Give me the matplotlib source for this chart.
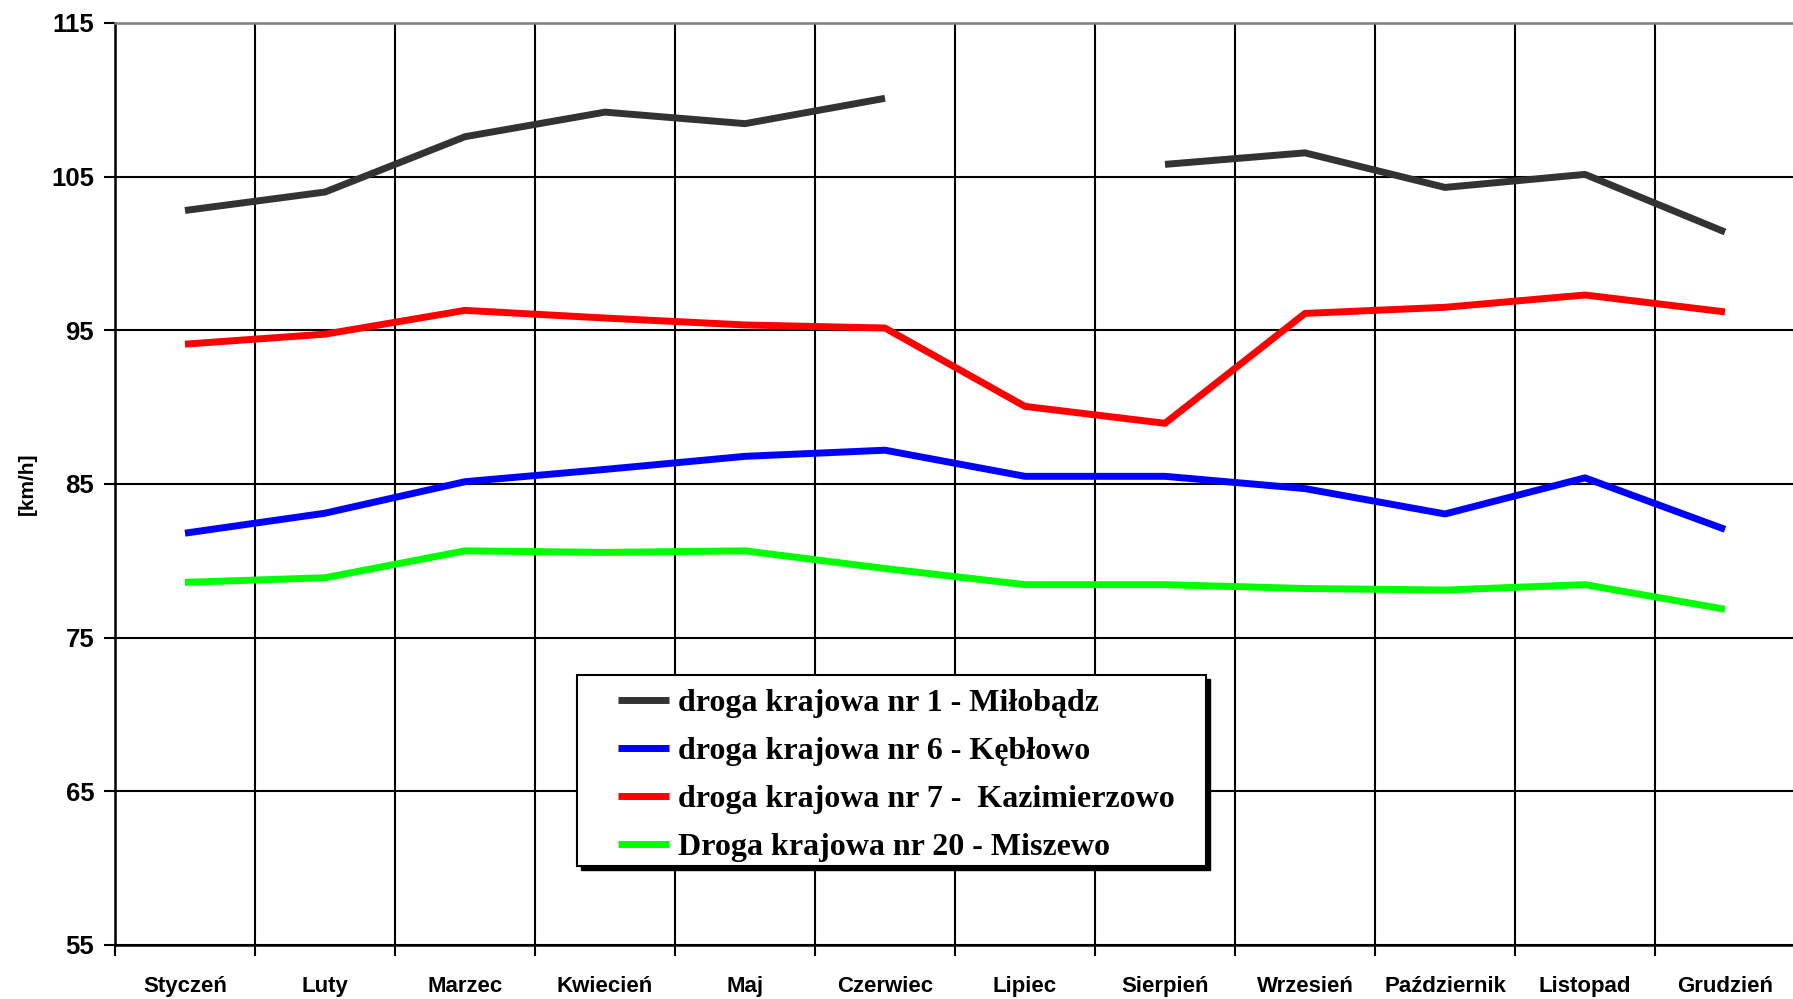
import numpy as np
import matplotlib
matplotlib.use("Agg")
import matplotlib.pyplot as plt
from matplotlib.patches import Rectangle

months = ["Styczeń", "Luty", "Marzec", "Kwiecień", "Maj", "Czerwiec", "Lipiec",
          "Sierpień", "Wrzesień", "Październik", "Listopad", "Grudzień"]

dk1 = [102.8, 104.0, 107.6, 109.2, 108.45, 110.1, np.nan, 105.8, 106.55, 104.3, 105.15, 101.4]
dk6 = [81.8, 83.1, 85.15, 85.95, 86.8, 87.2, 85.5, 85.5, 84.7, 83.05, 85.4, 82.05]
dk7 = [94.1, 94.75, 96.3, 95.8, 95.35, 95.15, 90.05, 88.95, 96.1, 96.5, 97.3, 96.2]
dk20 = [78.6, 78.9, 80.65, 80.55, 80.65, 79.5, 78.45, 78.45, 78.2, 78.1, 78.45, 76.85]

labels = ["droga krajowa nr 1 - Miłobądz",
          "droga krajowa nr 6 - Kębłowo",
          "droga krajowa nr 7 -  Kazimierzowo",
          "Droga krajowa nr 20 - Miszewo"]
colors = ["#333333", "#0000FF", "#FF0000", "#00FF00"]
yticks = [55, 65, 75, 85, 95, 105, 115]

W, H = 1793, 999
fig = plt.figure(figsize=(W / 100, H / 100), dpi=100)
L, R, T, B = 115, 1795, 23, 945
ax = fig.add_axes([L / W, 1 - B / H, (R - L) / W, (B - T) / H])

x = np.arange(len(months))
handles = []
for vals, c, lab in zip([dk1, dk6, dk7, dk20], colors, labels):
    ln, = ax.plot(x, vals, color=c, lw=5, label=lab, solid_capstyle="butt", zorder=3)
    handles.append(ln)

ax.set_xlim(-0.5, len(months) - 0.5)
ax.set_ylim(55, 115)

ax.set_yticks(yticks)
ax.set_yticklabels([str(v) for v in yticks])
ax.set_xticks(np.arange(-0.5, len(months), 1.0))
ax.set_xticklabels([])
ax.set_xticks(x, minor=True)
ax.set_xticklabels(months, minor=True)

ax.tick_params(axis="y", which="major", direction="out", length=8, width=1.5,
               pad=7, labelsize=18.5)
ax.tick_params(axis="x", which="major", direction="out", length=8, width=1.5)
ax.tick_params(axis="x", which="minor", length=0, pad=22.5, labelsize=16)
for lbl in ax.get_xticklabels(minor=True):
    lbl.set_fontweight("bold")
    lbl.set_fontfamily(["Liberation Sans Narrow", "Liberation Sans", "DejaVu Sans"])
for lbl in ax.get_yticklabels():
    lbl.set_fontweight("bold")
    lbl.set_fontfamily(["Liberation Sans", "DejaVu Sans"])

ax.grid(True, which="major", axis="both", color="black", lw=1.5, zorder=1)
for s in ["left", "bottom"]:
    ax.spines[s].set_color("black")
    ax.spines[s].set_linewidth(1.8)
ax.spines["top"].set_color("#808080")
ax.spines["top"].set_linewidth(1.8)
ax.spines["right"].set_visible(False)

fig.text(27 / W, 1 - 484 / H, "[km/h]", rotation=90, ha="center", va="center",
         fontsize=15, fontweight="bold",
         family=["Liberation Sans Narrow", "Liberation Sans", "DejaVu Sans"])

# legend box with solid shadow
bx0, by0, bx1, by1 = 577, 675, 1206, 866
sh = 4
fig.add_artist(Rectangle(((bx0 + sh) / W, 1 - (by1 + sh) / H), (bx1 - bx0) / W, (by1 - by0) / H,
                         transform=fig.transFigure, facecolor="black", edgecolor="black", zorder=3))
fig.add_artist(Rectangle((bx0 / W, 1 - by1 / H), (bx1 - bx0) / W, (by1 - by0) / H,
                         transform=fig.transFigure, facecolor="white", edgecolor="black",
                         lw=1.5, zorder=4))

leg = fig.legend(handles=handles, labels=labels, loc="upper left",
                 bbox_to_anchor=(617.5 / W, 1 - 689 / H), bbox_transform=fig.transFigure,
                 borderaxespad=0, borderpad=0, frameon=False,
                 prop={"family": ["Liberation Serif", "DejaVu Serif"],
                       "weight": "bold", "size": 23},
                 handlelength=1.6, handletextpad=0.28, labelspacing=0.58)
leg.set_zorder(6)
for h in leg.get_lines():
    h.set_linewidth(5)

fig.savefig("out.png", dpi=100, facecolor="white")
